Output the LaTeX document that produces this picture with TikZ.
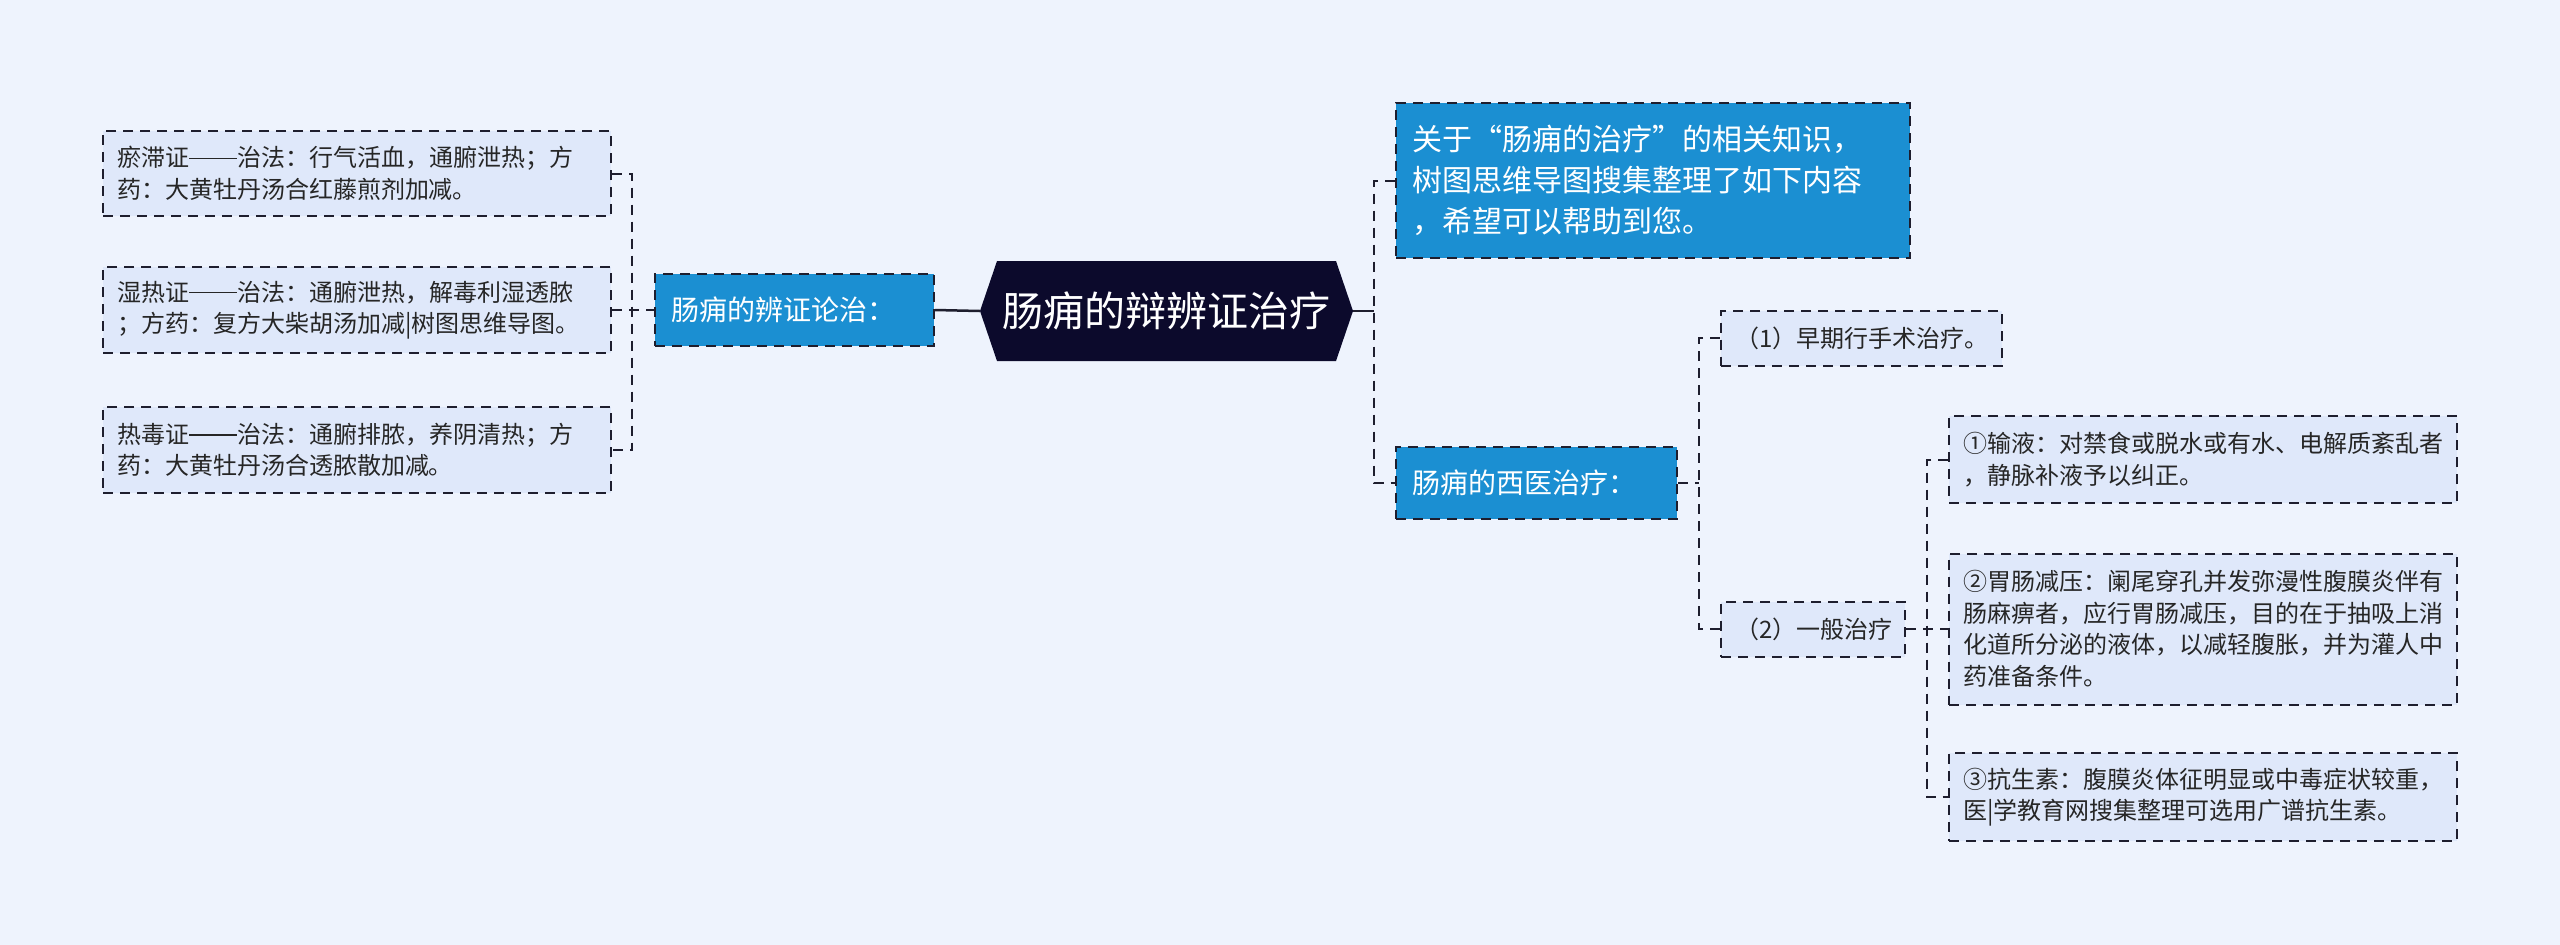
\documentclass[tikz,border=0pt]{standalone}
\usepackage{fontspec}
\setmainfont{Noto Sans CJK SC}
\definecolor{bgc}{HTML}{EEF3FD}
\definecolor{boxc}{HTML}{DFE8FA}
\definecolor{bluec}{HTML}{1B8FD2}
\definecolor{navyc}{HTML}{0C0A2C}
\definecolor{linec}{HTML}{1E1E2E}
\newcommand{\twodash}{\rule[0.33em]{2em}{0.06em}}
\tikzset{
  dsh/.style={line width=2pt, draw=linec, dash pattern=on 10pt off 7pt},
  conn/.style={line width=2.5pt, draw=linec},
  leafbox/.style={dsh, fill=boxc, inner xsep=14pt, inner ysep=0pt, align=left,
    font=\fontsize{24}{31.5}\selectfont, text=black!85},
  bluebox/.style={dsh, fill=bluec, inner xsep=16pt, inner ysep=0pt, align=left, text=white},
}
\begin{document}
\begin{tikzpicture}[x=1pt,y=-1pt]
\useasboundingbox (0,0) rectangle (2560,945);
\fill[bgc] (0,0) rectangle (2560,945);

% centre
\node[minimum width=373pt, minimum height=100pt, inner sep=0pt, text=white,
  font=\fontsize{41}{48}\selectfont,
  path picture={\fill[navyc] (path picture bounding box.west)
    -- ([xshift=17pt]path picture bounding box.north west)
    -- ([xshift=-17pt]path picture bounding box.north east)
    -- (path picture bounding box.east)
    -- ([xshift=-17pt]path picture bounding box.south east)
    -- ([xshift=17pt]path picture bounding box.south west) -- cycle;}]
  (c) at (1166.5,311) {肠痈的辩辨证治疗};

% left branch
\node[bluebox, text width=247pt, minimum height=72pt, font=\fontsize{28}{34}\selectfont]
  (bz) at (794.5,310) {肠痈的辨证论治：};
\node[leafbox, text width=480pt, minimum height=85pt] (L1) at (357,173.5)
  {瘀滞证\twodash 治法：行气活血，通腑泄热；方\\药：大黄牡丹汤合红藤煎剂加减。};
\node[leafbox, text width=480pt, minimum height=86pt] (L2) at (357,310)
  {湿热证\twodash 治法：通腑泄热，解毒利湿透脓\\；方药：复方大柴胡汤加减|树图思维导图。};
\node[leafbox, text width=480pt, minimum height=86pt] (L3) at (357,450)
  {热毒证\twodash 治法：通腑排脓，养阴清热；方\\药：大黄牡丹汤合透脓散加减。};

% right branch
\node[bluebox, text width=482pt, minimum height=155pt, font=\fontsize{30}{41}\selectfont]
  (T) at (1653,180.5) {关于“肠痈的治疗”的相关知识，\\树图思维导图搜集整理了如下内容\\，希望可以帮助到您。};
\node[bluebox, text width=249pt, minimum height=72pt, font=\fontsize{28}{34}\selectfont]
  (W) at (1536.5,483) {肠痈的西医治疗：};
\node[leafbox, text width=253pt, minimum height=55pt] (S1) at (1861.5,338)
  {（1）早期行手术治疗。};
\node[leafbox, text width=156pt, minimum height=55pt] (S2) at (1813,629)
  {（2）一般治疗};
\node[leafbox, text width=480pt, minimum height=87pt] (R1) at (2203,459.5)
  {①输液：对禁食或脱水或有水、电解质紊乱者\\，静脉补液予以纠正。};
\node[leafbox, text width=480pt, minimum height=151pt] (R2) at (2203,629)
  {②胃肠减压：阑尾穿孔并发弥漫性腹膜炎伴有\\肠麻痹者，应行胃肠减压，目的在于抽吸上消\\化道所分泌的液体，以减轻腹胀，并为灌人中\\药准备条件。};
\node[leafbox, text width=480pt, minimum height=88pt] (R3) at (2203,797)
  {③抗生素：腹膜炎体征明显或中毒症状较重，\\医|学教育网搜集整理可选用广谱抗生素。};

% connectors
\coordinate (jl) at (632,310);
\coordinate (jr) at (1374,311);
\coordinate (jw) at (1699,483);
\coordinate (jg) at (1927,629);
\draw[conn] (bz.east) -- (c.west);
\draw[dsh] (L1.east) -| (jl) |- (L3.east);
\draw[dsh] (L2.east) -- (bz.west);
\draw[conn] (c.east) -- (jr);
\draw[dsh] (T.west) -| (jr) |- (W.west);
\draw[dsh] (W.east) -- (jw);
\draw[dsh] (S1.west) -| (jw) |- (S2.west);
\draw[dsh] (S2.east) -- (R2.west);
\draw[dsh] (R1.west) -| (jg) |- (R3.west);
\end{tikzpicture}
\end{document}
